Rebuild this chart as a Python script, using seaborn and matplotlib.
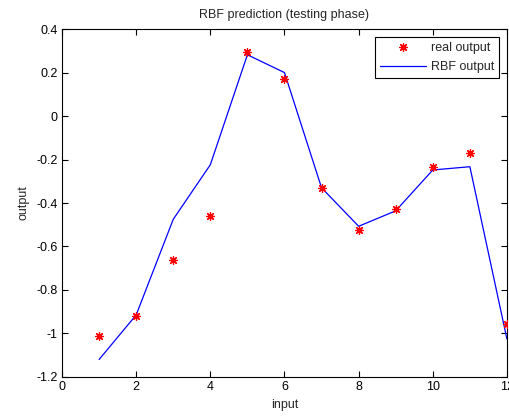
import numpy as np
import pandas as pd
import matplotlib
matplotlib.use("Agg")
import matplotlib.pyplot as plt
import seaborn as sns

# Values
inputs = [1, 2, 3, 4, 5, 6, 7, 8, 9, 10, 11, 12]
real_output = [-1.01, -0.92, -0.66, -0.46, 0.297, 0.17, -0.332, -0.525, -0.427, -0.236, -0.168, -0.955]
rbf_output = [-1.12, -0.915, -0.475, -0.224, 0.282, 0.20, -0.33, -0.507, -0.436, -0.248, -0.233, -1.026]

df = pd.DataFrame({"input": inputs, "real": real_output, "rbf": rbf_output})

sns.set_style("ticks")
plt.rcParams["font.family"] = ["Liberation Sans", "DejaVu Sans"]
plt.rcParams["font.size"] = 9

fig = plt.figure(figsize=(5.1, 4.16), dpi=100)
ax = fig.add_axes([0.1216, 0.094, 0.8724, 0.836])

sns.scatterplot(x="input", y="real", data=df, ax=ax, color="red",
                marker=(8, 2, 0), s=32, linewidth=0.9, edgecolor="red",
                label="real output", zorder=3)
sns.lineplot(x="input", y="rbf", data=df, ax=ax, color="blue",
             linewidth=0.9, label="RBF output")

ax.set_xlim(0, 12)
ax.set_ylim(-1.2, 0.4)
ax.set_xticks(np.arange(0, 13, 2))
ax.set_yticks(np.arange(-1.2, 0.41, 0.2))
ax.set_yticklabels(["-1.2", "-1", "-0.8", "-0.6", "-0.4", "-0.2", "0", "0.2", "0.4"])

ax.tick_params(direction="in", top=True, right=True, labelsize=9, length=4,
               width=0.8, colors="black", pad=3)
for s in ax.spines.values():
    s.set_linewidth(0.8)
    s.set_color("black")

ax.set_title("RBF prediction (testing phase)", fontsize=9, pad=8)
ax.set_xlabel("input", fontsize=9, labelpad=4)
ax.set_ylabel("output", fontsize=9, labelpad=5)

leg = ax.legend(loc="upper right", fontsize=9, frameon=True, fancybox=False,
                edgecolor="black", framealpha=1, borderaxespad=0.6,
                handlelength=3.7, handletextpad=0.4, labelspacing=0.6,
                borderpad=0.4)
leg.get_frame().set_linewidth(0.8)

fig.savefig("out.png", dpi=100)
